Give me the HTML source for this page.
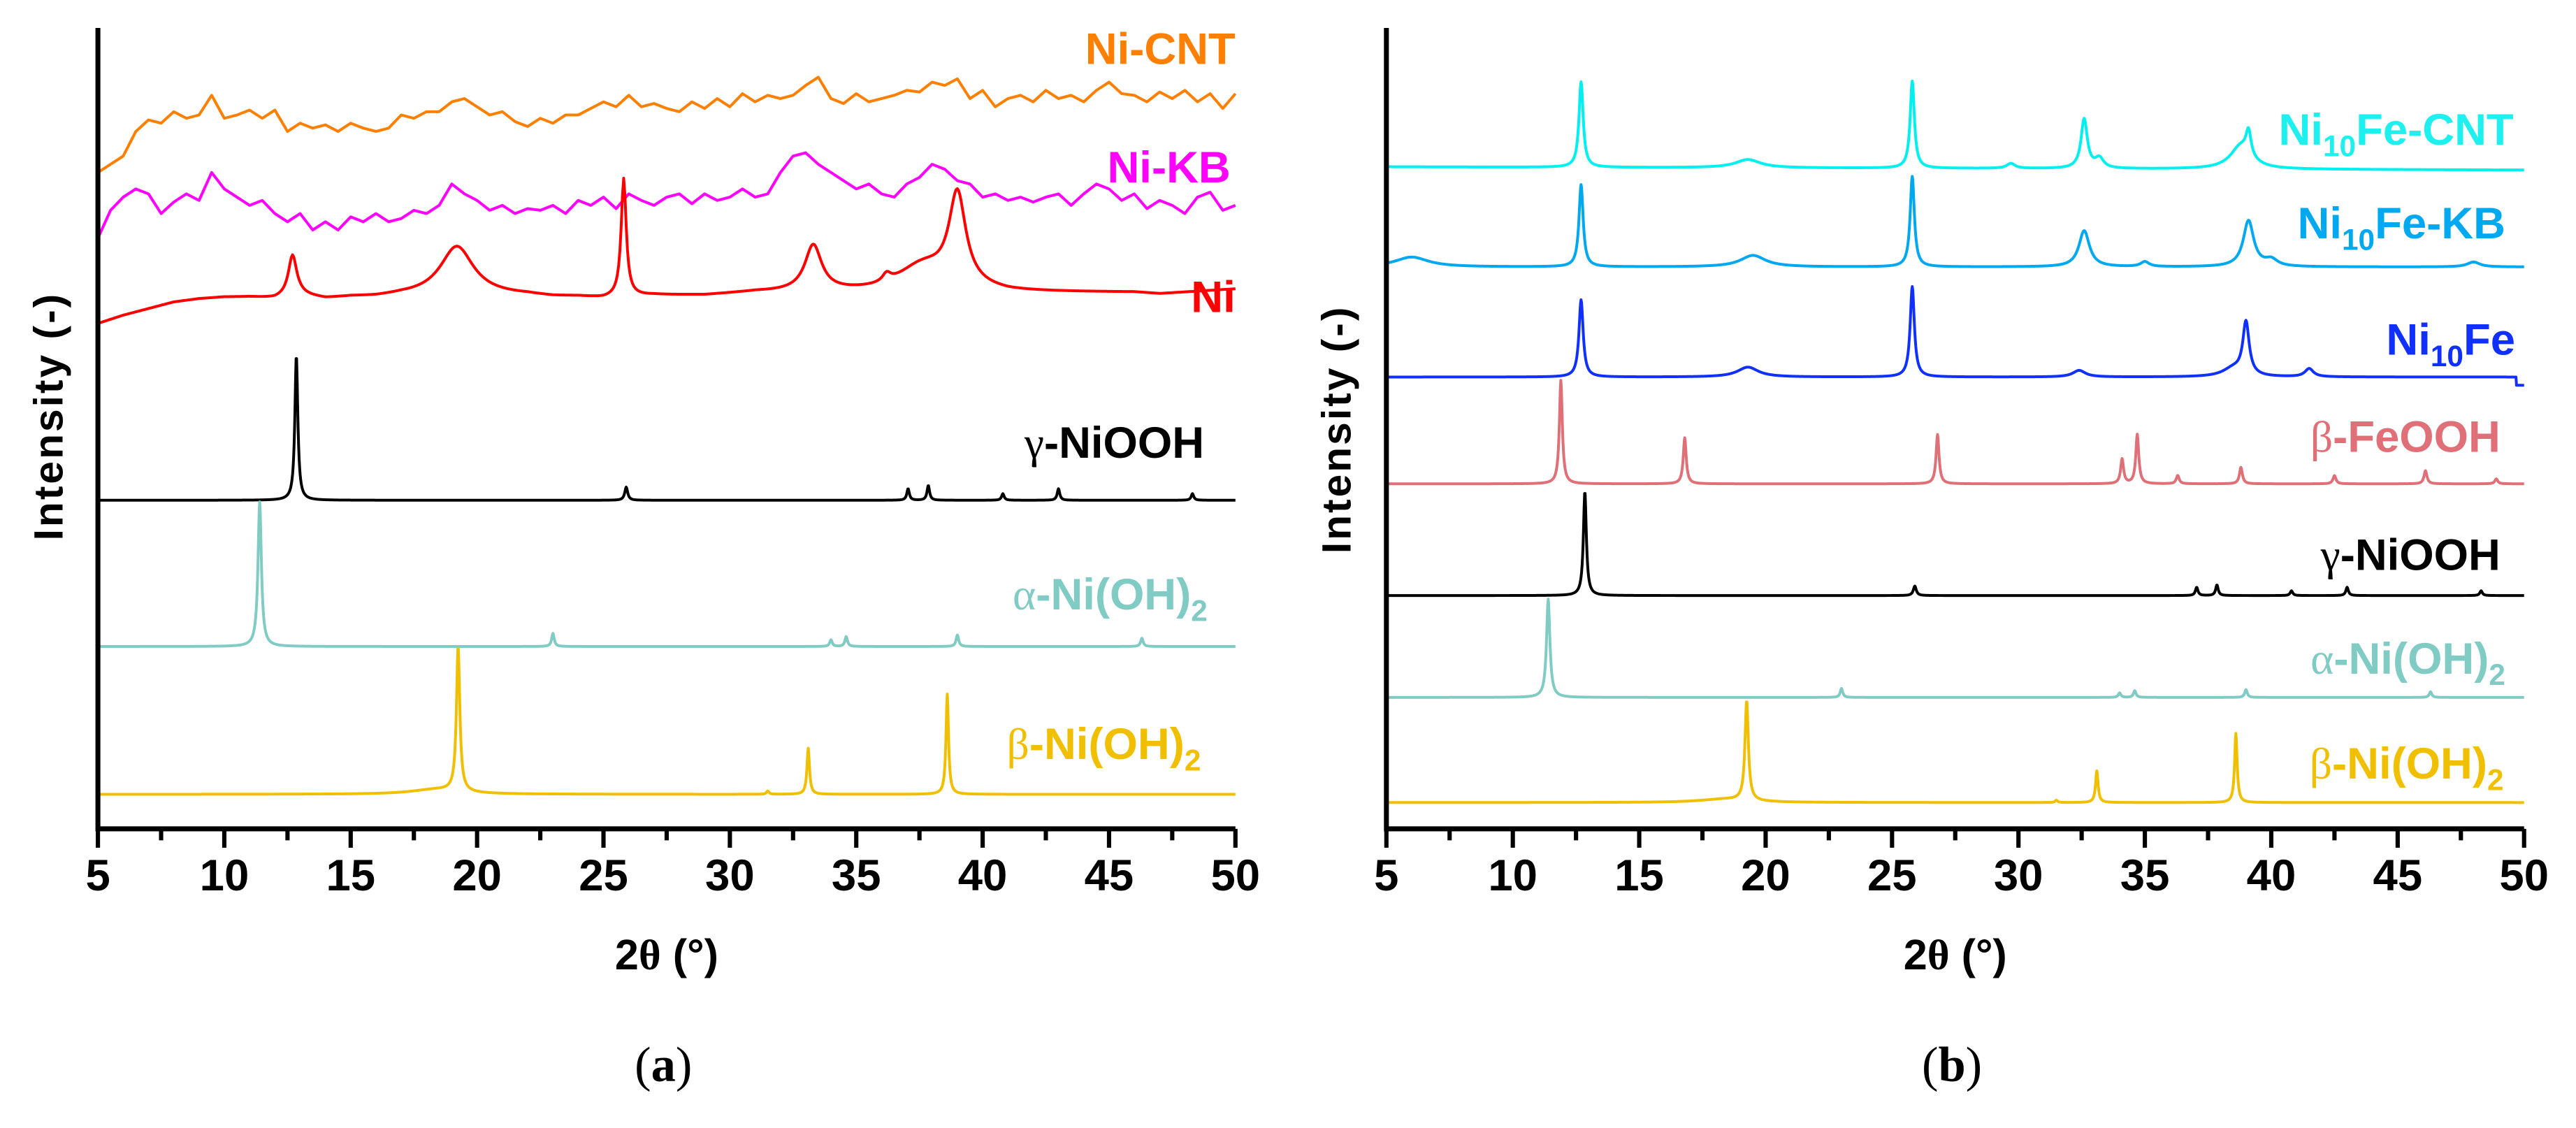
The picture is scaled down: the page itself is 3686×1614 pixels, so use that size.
<!DOCTYPE html>
<html><head><meta charset="utf-8"><style>
html,body{margin:0;padding:0;background:#fff;}
svg{display:block;}
text{font-family:"Liberation Sans",Arial,sans-serif;font-weight:bold;}
.g{font-family:"Liberation Serif",serif;font-weight:normal;}
</style></head><body>
<svg id="fig" width="3686" height="1614" viewBox="0 0 1568 686.6" preserveAspectRatio="none" xmlns="http://www.w3.org/2000/svg"></svg>
<script>
// ---- data (2θ in degrees, intensity in a.u.) ----
const xTicks = [5,10,15,20,25,30,35,40,45,50];
const xTickLabels = ["5","10","15","20","25","30","35","40","45","50"];
// Noisy experimental scans, 0.5° steps from 5 to 50
const niCNT = [5,10,15,30,37,35,42,38,40,52,38,40,43,38,43,30,35,32,34,30,35,32,30,32,40,38,42,42,48,50,45,40,42,36,33,38,35,40,40,44,48,45,52,45,47,44,42,48,44,50,45,53,48,52,50,52,58,63,50,47,53,48,50,52,55,54,60,58,62,50,55,45,50,52,48,55,50,52,48,55,60,53,52,48,54,50,55,48,53,44,53];
const niKB = [5,22,30,35,32,20,27,32,28,45,35,30,25,28,20,15,20,10,15,10,18,15,20,15,17,22,20,25,38,32,28,22,25,20,23,22,25,20,28,25,30,23,32,28,25,30,32,26,32,28,30,35,30,32,45,55,57,50,45,40,35,38,32,30,38,42,50,47,40,38,30,32,28,30,27,30,32,25,32,38,35,28,32,23,28,25,20,30,33,22,25];
// Ni: smooth background (1° steps) + peaks [pos, height, halfwidth]
const niBg = [3,8,12,16,18,19,19,18,20,18,19,19,20,20,20,20,20,20,19,19,18,19,20,20,20,21,22,22,22,22,22,22,23,24,24,23,22,22,22,22,22,22,21,22,23,24];
const niPeaks = [[12.7,25,0.2],[19.2,30,0.8],[25.8,72,0.12],[33.3,28,0.4],[37.6,14,1.2],[39.0,55,0.4],[36.2,5,0.2]];
const ni10FeCNTPeaks = [[12.7,52,0.1],[19.3,5,0.6],[25.8,53,0.1],[29.7,3,0.2],[32.6,30,0.15],[33.2,6,0.2],[38.8,14,0.5],[39.1,15,0.12]];
const ni10FeKBPeaks = [[6.0,6,0.8],[12.7,50,0.1],[19.5,7,0.6],[25.8,55,0.1],[32.6,22,0.25],[35,3,0.2],[39.1,28,0.25],[40,4,0.3],[48,3,0.3]];
const ni10FePeaks = [[12.7,47,0.1],[19.3,6,0.5],[25.8,55,0.1],[32.4,4,0.3],[38.5,5,0.5],[39.0,32,0.15],[41.5,5,0.2]];
const feoohPeaks = [[11.9,63,0.07],[16.8,28,0.07],[26.8,30,0.07],[34.1,15,0.07],[34.7,30,0.07],[36.3,5,0.07],[38.8,10,0.07],[42.5,5,0.07],[46.1,8,0.07],[48.9,3,0.07]];
const gammaPeaks = [[12.85,88,0.07],[25.9,8,0.07],[37.05,7,0.06],[37.85,9,0.06],[40.8,4,0.06],[43.0,7,0.06],[48.3,4,0.06]];
const alphaPeaks = [[11.4,88,0.08],[23.0,8,0.06],[34.0,4,0.06],[34.6,6,0.06],[39.0,7,0.06],[46.3,5,0.06]];
const betaPeaks = [[19.25,88,0.08],[33.1,28,0.06],[38.6,61,0.06],[31.5,2,0.06],[18.4,3,1.2]];
// stacking offsets (intensity units above panel floor)
const offsetsA = {cnt:394.5, kb:354.5, ni:304.5, gamma:200, alpha:111, beta:21};
const offsetsB = {cnt:403, kb:342, fe:275, feooh:210, gamma:142, alpha:80, beta:16};

// ---- layout ----
const Y0 = 504.5, Y1 = 17;
const svg = document.getElementById('fig');
const NS = 'http://www.w3.org/2000/svg';
function mk(tag, attrs){const e=document.createElementNS(NS,tag);for(const k in attrs)e.setAttribute(k,attrs[k]);return e;}
function lor(x,peaks){let s=0;for(const p of peaks){const d=(x-p[0])/p[2];s+=p[1]/(1+d*d);}return s;}
function interp(arr,x){const t=(x-5)/45*(arr.length-1);const i=Math.min(Math.floor(t),arr.length-2);const f=t-i;return arr[i]*(1-f)+arr[i+1]*f;}

function panel(x0,x1,id){
  const g=mk('g',{});
  
  
  svg.appendChild(g);
  const sx=v=>x0+(v-5)/45*(x1-x0);
  const sy=v=>Y0-v;
  return {g,sx,sy,x0,x1};
}
function seriesPath(P,name,color,fn,step){
  let d='';
  for(let x=5;x<=50.0001;x+=step){d+=(d?'L':'M')+P.sx(x).toFixed(2)+','+P.sy(fn(x)).toFixed(2);}
  const p=mk('path',{d:d,fill:'none',stroke:color,'stroke-width':1.7,'stroke-linejoin':'round'});
  
  
  P.g.appendChild(p);
}
function axes(P,label,ylabX){
  const ax=mk('path',{d:`M${P.x0},${Y1}V${Y0}H${P.x1}`,fill:'none',stroke:'#000','stroke-width':3});
  
  
  P.g.appendChild(ax);
  for(let v=5;v<=50;v+=2.5){
    const major=(v%5===0);
    const t=mk('line',{x1:P.sx(v),x2:P.sx(v),y1:Y0,y2:Y0+(major?11.5:7),stroke:'#000','stroke-width':2.6});
    
    
    P.g.appendChild(t);
  }
  xTicks.forEach((v,i)=>{
    const t=mk('text',{x:P.sx(v),y:542,'font-size':27,'text-anchor':'middle'});
    t.textContent=xTickLabels[i];
    
    
    P.g.appendChild(t);
  });
  const xt=mk('text',{x:(P.x0+P.x1)/2,y:590,'font-size':26,'text-anchor':'middle'});
  xt.innerHTML='2<tspan class="g" style="font-weight:bold">θ</tspan> (°)';
  
  
  P.g.appendChild(xt);
  const yt=mk('text',{x:0,y:0,'font-size':25,'text-anchor':'middle',transform:`translate(${ylabX},${P.id==='b'?262:254}) rotate(-90)`,textLength:150,lengthAdjust:'spacing'});
  yt.textContent='Intensity (-)';
  
  
  P.g.appendChild(yt);
  const pl=mk('text',{x:(P.x0+P.x1)/2-2,y:658,'font-size':30,'text-anchor':'middle',style:'font-family:"Liberation Serif",serif;font-weight:normal'});
  pl.innerHTML='(<tspan style="font-weight:bold">'+label+'</tspan>)';
  
  
  P.g.appendChild(pl);
}
function label(P,html,x,y,color,name){
  const t=mk('text',{x:x,y:y,'font-size':27,'text-anchor':'end',fill:color});
  t.innerHTML=html;
  
  
  P.g.appendChild(t);
}
const sub=s=>`<tspan font-size="18" dy="7">${s}</tspan><tspan dy="-7">`;
const greek=c=>`<tspan class="g">${c}</tspan>`;

// ---- panel (a) ----
const A=panel(59.6,752,'panel-a');A.id='a';
seriesPath(A,'trace-ni-cnt','#ff8000',x=>offsetsA.cnt+interp(niCNT,x),0.5);
seriesPath(A,'trace-ni-kb','#ff00ff',x=>offsetsA.kb+interp(niKB,x),0.5);
seriesPath(A,'trace-ni','#ff0000',x=>offsetsA.ni+interp(niBg,x)+lor(x,niPeaks),0.05);
seriesPath(A,'trace-gamma-niooh','#000000',x=>offsetsA.gamma+lor(x,gammaPeaks),0.02);
seriesPath(A,'trace-alpha-nioh2','#80cbc4',x=>offsetsA.alpha+lor(x,alphaPeaks),0.02);
seriesPath(A,'trace-beta-nioh2','#f0c000',x=>offsetsA.beta+lor(x,betaPeaks),0.02);
axes(A,'a',38);
label(A,'Ni-CNT',752,39,'#ff8000','label-ni-cnt');
label(A,'Ni-KB',749,111,'#ff00ff','label-ni-kb');
label(A,'Ni',752,190,'#ff0000','label-ni');
label(A,greek('γ')+'-NiOOH',733,278.6,'#000','label-gamma-niooh');
label(A,greek('α')+'-Ni(OH)'+sub('2')+'</tspan>',735,371,'#80cbc4','label-alpha-nioh2');
label(A,greek('β')+'-Ni(OH)'+sub('2')+'</tspan>',731,462,'#f0c000','label-beta-nioh2');

// ---- panel (b) ----
const B=panel(843.9,1536.4,'panel-b');B.id='b';
seriesPath(B,'trace-ni10fe-cnt','#00f0f0',x=>offsetsB.cnt-(x-5)/45*2+lor(x,ni10FeCNTPeaks),0.02);
seriesPath(B,'trace-ni10fe-kb','#00a8f0',x=>offsetsB.kb+lor(x,ni10FeKBPeaks),0.02);
seriesPath(B,'trace-ni10fe','#1030ff',x=>offsetsB.fe+lor(x,ni10FePeaks)-(x>49.7?5:0),0.02);
seriesPath(B,'trace-beta-feooh','#e07078',x=>offsetsB.feooh+lor(x,feoohPeaks),0.02);
seriesPath(B,'trace-gamma-niooh-b','#000000',x=>offsetsB.gamma+lor(x,gammaPeaks)*0.72,0.02);
seriesPath(B,'trace-alpha-nioh2-b','#80cbc4',x=>offsetsB.alpha+lor(x,alphaPeaks)*0.68,0.02);
seriesPath(B,'trace-beta-nioh2-b','#f0c000',x=>offsetsB.beta+lor(x,betaPeaks)*0.69,0.02);
axes(B,'b',822);
label(B,'Ni'+sub('10')+'Fe-CNT</tspan>',1530,88,'#1ef0f0','label-ni10fe-cnt');
label(B,'Ni'+sub('10')+'Fe-KB</tspan>',1525,145,'#00a8f0','label-ni10fe-kb');
label(B,'Ni'+sub('10')+'Fe</tspan>',1531,216,'#1030ff','label-ni10fe');
label(B,greek('β')+'-FeOOH',1522,275,'#e07078','label-beta-feooh');
label(B,greek('γ')+'-NiOOH',1522,347,'#000','label-gamma-niooh-b');
label(B,greek('α')+'-Ni(OH)'+sub('2')+'</tspan>',1525,410,'#80cbc4','label-alpha-nioh2-b');
label(B,greek('β')+'-Ni(OH)'+sub('2')+'</tspan>',1524,474,'#f0c000','label-beta-nioh2-b');
</script>
</body></html>
